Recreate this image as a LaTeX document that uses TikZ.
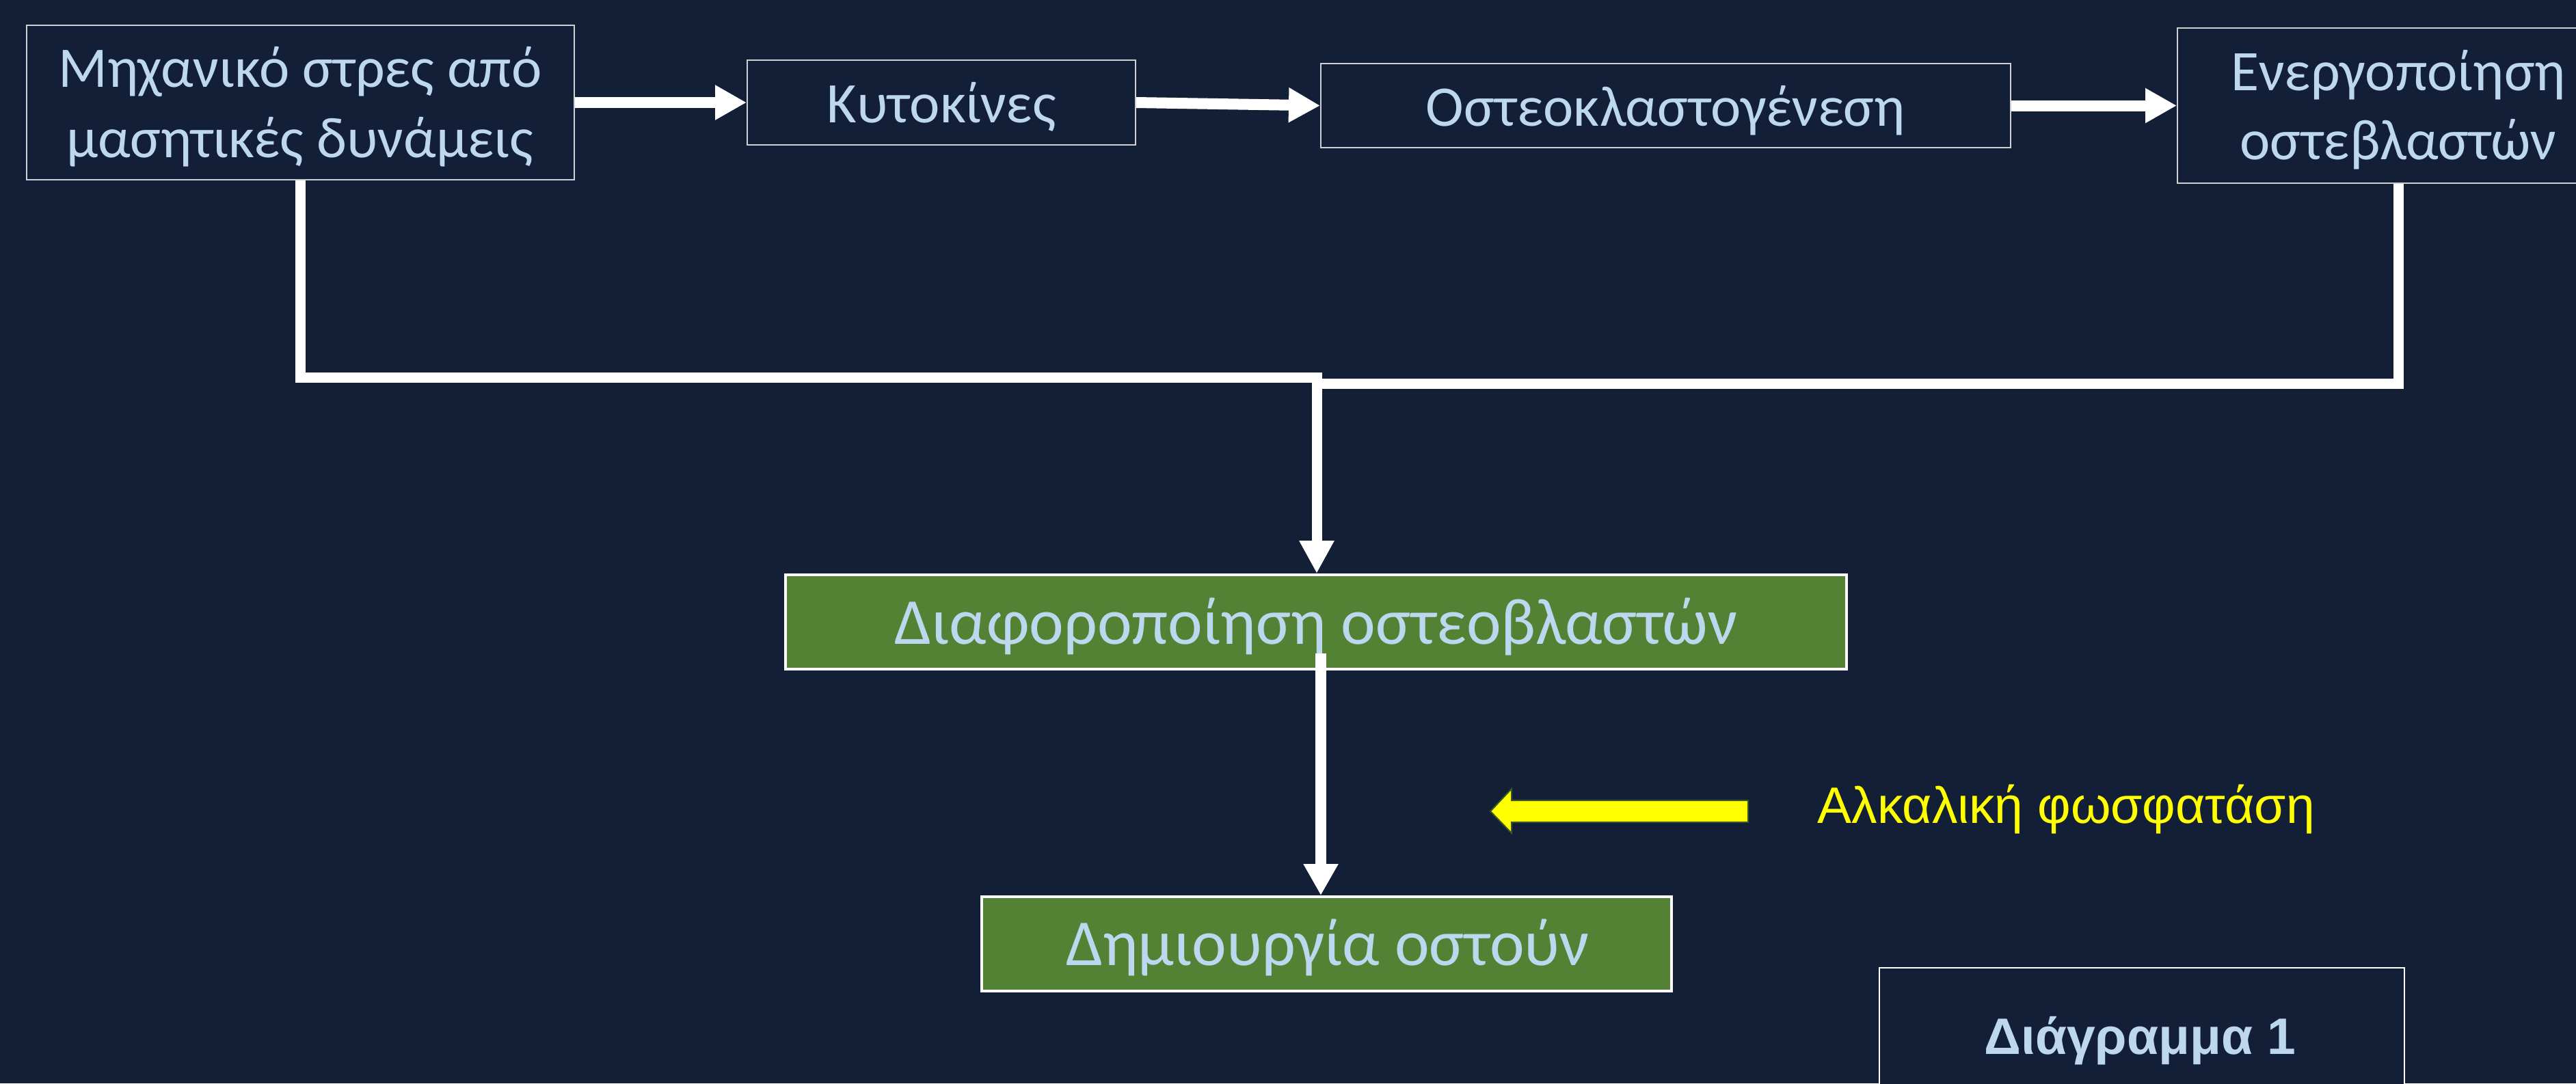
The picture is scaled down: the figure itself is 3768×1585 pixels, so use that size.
\documentclass[tikz,border=0pt]{standalone}
\usepackage{fontspec}
\setmainfont{Carlito}
\newfontfamily\arialfont{Liberation Sans}
\usetikzlibrary{arrows.meta}
\definecolor{bg}{RGB}{19,30,55}
\definecolor{txtblue}{HTML}{BDD7EE}
\definecolor{boxgreen}{HTML}{548235}
\definecolor{arrowedge}{HTML}{385723}
\definecolor{boxline}{HTML}{D0D0D0}
\definecolor{yell}{HTML}{FFFF00}
\begin{document}
\begin{tikzpicture}[x=0.25pt,y=-0.25pt,
  darkbox/.style={draw=boxline, line width=0.5pt, fill=bg, inner sep=0pt, rectangle},
  greenbox/.style={draw=white, line width=1pt, fill=boxgreen, inner sep=0pt, rectangle},
  boxtext/.style={text=txtblue, inner sep=0pt, anchor=base, font=\fontsize{21pt}{25pt}\selectfont},
  greentext/.style={text=txtblue, inner sep=0pt, anchor=base, font=\fontsize{24pt}{29pt}\selectfont},
  flow/.style={draw=white, line width=4pt, -{Triangle[width=12pt,length=11.5pt]}},
  conn/.style={draw=white, line width=3.75pt},
]
\fill[bg] (0,0) rectangle (3768,1585);
\useasboundingbox (0,0) rectangle (3768,1585);

% boxes
\node[darkbox, minimum width=200.25pt, minimum height=56.5pt] (b1) at (439,150) {};
\node[darkbox, minimum width=142pt, minimum height=31pt] (b2) at (1377,150) {};
\node[darkbox, minimum width=252.25pt, minimum height=30.75pt] (b3) at (2436.5,154.5) {};
\node[darkbox, minimum width=161.5pt, minimum height=56.75pt] (b4) at (3508,154.5) {};
\node[greenbox, minimum width=388pt, minimum height=34.5pt] (b5) at (1925,910) {};
\node[greenbox, minimum width=252.25pt, minimum height=34.5pt] (b6) at (1940.5,1381) {};
\node[darkbox, draw=white, line width=0.7pt, minimum width=192pt, minimum height=49.5pt] (b7) at (3133,1515) {};

% texts
\node[boxtext] (t1a) at (439,127) {Μηχανικό στρες από};
\node[boxtext] (t1b) at (439,230) {μασητικές δυνάμεις};
\node[boxtext] (t2) at (1377,179) {Κυτοκίνες};
\node[boxtext] (t3) at (2436,184) {Οστεοκλαστογένεση};
\node[boxtext] (t4a) at (3508,132) {Ενεργοποίηση};
\node[boxtext] (t4b) at (3508,233) {οστεβλαστών};
\node[greentext] (t5) at (1925,942) {Διαφοροποίηση οστεοβλαστών};
\node[greentext] (t6) at (1942,1412) {Δημιουργία οστούν};
\node[text=yell, inner sep=0pt, anchor=base west, font=\arialfont\fontsize{18.75pt}{22pt}\selectfont] (t8) at (2658,1204) {Αλκαλική φωσφατάση};
\node[text=txtblue, inner sep=0pt, anchor=base, font=\arialfont\bfseries\fontsize{18.75pt}{22pt}\selectfont] (t7) at (3130,1542) {Διάγραμμα 1};

% junction coordinates
\coordinate (j) at (1926,552);
\coordinate (jr) at (1926,561);
\coordinate (s5) at (1932,956);

% connectors
\draw[flow] (b1.east) -- (b2.west);
\draw[flow] (b2.east) -- (b3.west);
\draw[flow] (b3.east) -- (b4.west);
\draw[conn] (b4.south) |- (jr);
\draw[conn, -{Triangle[width=12pt,length=12pt]}] (b1.south) |- (j) -- (j |- b5.north);
\draw[flow] (s5) -- (s5 |- b6.north);

% yellow arrow
\draw[fill=yell, draw=arrowedge, line width=0.5pt]
  (2180,1187) -- (2211,1154) -- (2211,1171) -- (2557,1171) -- (2557,1203) -- (2211,1203) -- (2211,1219) -- cycle;
\end{tikzpicture}
\end{document}
